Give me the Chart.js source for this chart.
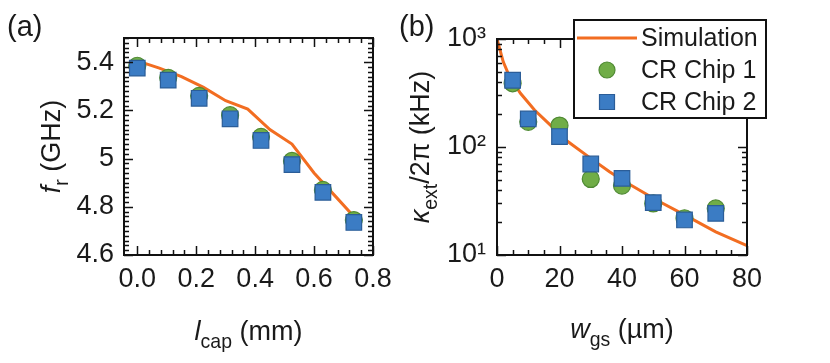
<!DOCTYPE html>
<html>
<head>
<meta charset="utf-8">
<script src="https://cdn.jsdelivr.net/npm/chart.js@4/dist/chart.umd.min.js"></script>
<style>
  html, body { margin: 0; padding: 0; background: #fff; }
  #wrap { position: relative; width: 830px; height: 363px; }
  canvas { position: absolute; top: 0; }
</style>
</head>
<body>
<div id="wrap">
  <canvas id="chartA" width="415" height="363" style="left:0"></canvas>
  <canvas id="chartB" width="435" height="363" style="left:395px"></canvas>
</div>
<script>
// panel (a): resonance frequency vs capacitor length
const lcap = [0, 0.105, 0.21, 0.315, 0.42, 0.525, 0.63, 0.735];
const frChip1 = [5.385, 5.335, 5.26, 5.18, 5.09, 4.99, 4.87, 4.745];
const frChip2 = [5.375, 5.325, 5.25, 5.165, 5.075, 4.975, 4.86, 4.735];
const lcapSim = [0, 0.075, 0.15, 0.225, 0.3, 0.375, 0.45, 0.525, 0.6, 0.675, 0.735];
const frSim = [5.405, 5.375, 5.34, 5.295, 5.24, 5.205, 5.12, 5.06, 4.94, 4.84, 4.76];
const lcapTicks = [0, 0.2, 0.4, 0.6, 0.8];
const frTicks = [4.6, 4.8, 5, 5.2, 5.4];

// panel (b): external coupling rate vs ground gap width
const wgs = [5, 10, 20, 30, 40, 50, 60, 70];
const kappaChip1 = [389, 171, 158, 50.6, 43.9, 30, 21.9, 27];
const kappaChip2 = [415, 182, 125, 69.6, 51.3, 30.5, 21.1, 24.3];
const wgsSim = [0, 2, 4, 7.5, 12, 17, 22, 30, 36, 41, 51, 60, 70, 80];
const kappaSim = [1000, 614, 448, 314, 220, 160, 116, 78.5, 59, 47.7, 32.3, 23.5, 16.4, 12.2];
const wgsTicks = [0, 20, 40, 60, 80];
const kappaTicks = [10, 100, 1000];

const FONT = "'Liberation Sans', Arial, sans-serif";
const TXT = '#1a1a1a';
const ORANGE = '#f26d21';
const GREEN = '#70ad47';
const GREEN_DARK = '#4f8a33';
const BLUE = '#3b7cc4';
const BLUE_DARK = '#2b5d98';
const TICK_SIZE = 27;
const TITLE_SIZE = 27;

Chart.defaults.font.family = FONT;
Chart.defaults.color = TXT;

function pts(xs, ys) {
  return xs.map((x, i) => ({ x: x, y: ys[i] }));
}

function richText(ctx, runs, x, y, size) {
  const fonts = runs.map(r => (r.i ? 'italic ' : '') + (r.sub ? size * 0.72 : size) + 'px ' + FONT);
  let w = 0;
  runs.forEach((r, k) => { ctx.font = fonts[k]; w += ctx.measureText(r.t).width; });
  let cx = x - w / 2;
  ctx.textAlign = 'left';
  ctx.textBaseline = 'alphabetic';
  runs.forEach((r, k) => {
    ctx.font = fonts[k];
    ctx.fillText(r.t, cx, y + (r.sub ? size * 0.3 : 0));
    cx += ctx.measureText(r.t).width;
  });
}

// box around the plot, inward ticks on all four sides, titles, panel letter, legend
const framePlugin = {
  id: 'frame',
  afterDatasetsDraw(chart, args, o) {
    const ctx = chart.ctx;
    const { left, right, top, bottom } = chart.chartArea;
    const xs = chart.scales.x, ys = chart.scales.y;
    ctx.save();
    ctx.strokeStyle = '#111';
    ctx.lineWidth = 1.5;
    ctx.beginPath();
    const tickX = (v, len) => {
      const p = Math.round(xs.getPixelForValue(v)) + 0.5;
      ctx.moveTo(p, bottom); ctx.lineTo(p, bottom - len);
      ctx.moveTo(p, top); ctx.lineTo(p, top + len);
    };
    const tickY = (v, len) => {
      const p = Math.round(ys.getPixelForValue(v)) + 0.5;
      ctx.moveTo(left, p); ctx.lineTo(left + len, p);
      ctx.moveTo(right, p); ctx.lineTo(right - len, p);
    };
    o.xMinor.forEach(v => tickX(v, 5));
    o.xMajor.forEach(v => tickX(v, 9));
    o.yMinor.forEach(v => tickY(v, 5));
    o.yMajor.forEach(v => tickY(v, 9));
    ctx.stroke();
    ctx.lineWidth = 2;
    ctx.strokeRect(left, top, right - left, bottom - top);
    ctx.restore();
  },
  afterDraw(chart, args, o) {
    const ctx = chart.ctx;
    const { left, right, top, bottom } = chart.chartArea;
    ctx.save();
    ctx.fillStyle = TXT;
    richText(ctx, o.xTitle, (left + right) / 2, o.xTitleY, TITLE_SIZE);
    ctx.save();
    ctx.translate(o.yTitleX, (top + bottom) / 2);
    ctx.rotate(-Math.PI / 2);
    richText(ctx, o.yTitle, 0, 0, TITLE_SIZE);
    ctx.restore();
    ctx.font = '29px ' + FONT;
    ctx.textAlign = 'left';
    ctx.fillText(o.panel, o.panelX, 36);

    if (o.legend) {
      const L = o.legend;
      ctx.fillStyle = '#fff';
      ctx.fillRect(L.x, L.y, L.w, L.h);
      ctx.strokeStyle = '#111';
      ctx.lineWidth = 2;
      ctx.strokeRect(L.x, L.y, L.w, L.h);
      const ds = chart.data.datasets;
      const mx = L.x + 33;
      ds.forEach((d, i) => {
        const cy = L.y + 18 + i * 32;
        if (i === 0) {
          ctx.strokeStyle = d.borderColor;
          ctx.lineWidth = 3;
          ctx.beginPath();
          ctx.moveTo(L.x + 3, cy); ctx.lineTo(L.x + 63, cy);
          ctx.stroke();
        } else {
          ctx.fillStyle = d.backgroundColor;
          ctx.strokeStyle = d.borderColor;
          ctx.lineWidth = d.borderWidth;
          ctx.beginPath();
          if (d.pointStyle === 'circle') {
            ctx.arc(mx, cy, 8, 0, Math.PI * 2);
          } else {
            ctx.rect(mx - 7.5, cy - 7.5, 15, 15);
          }
          ctx.fill();
          ctx.stroke();
        }
        ctx.fillStyle = TXT;
        ctx.font = '25px ' + FONT;
        ctx.textBaseline = 'middle';
        ctx.fillText(d.label, L.x + 67, cy + 1);
      });
    }
    ctx.restore();
  }
};

function datasets(simX, simY, x1, y1, x2, y2) {
  return [
    { label: 'Simulation', data: pts(simX, simY), showLine: true, borderColor: ORANGE,
      borderWidth: 3, pointRadius: 0, tension: 0, order: 3 },
    { label: 'CR Chip 1', data: pts(x1, y1), pointStyle: 'circle', pointRadius: 8.5,
      backgroundColor: GREEN, borderColor: GREEN_DARK, borderWidth: 1.2, order: 2 },
    { label: 'CR Chip 2', data: pts(x2, y2), pointStyle: 'rect', pointRadius: 11,
      backgroundColor: BLUE, borderColor: BLUE_DARK, borderWidth: 1.2, order: 1 }
  ];
}

function axis(extra) {
  return Object.assign({
    grid: { display: false, drawTicks: false },
    border: { display: false }
  }, extra);
}

const lcapMinor = [];
for (let k = 0; k <= 20; k++) lcapMinor.push(k * 0.04);
const frMinor = [];
for (let k = 0; k <= 45; k++) frMinor.push(4.6 + k * 0.02);
const wgsMinor = [];
for (let k = 0; k <= 16; k++) wgsMinor.push(k * 5);
const kappaMinor = [];
[10, 100].forEach(d => { for (let m = 2; m <= 9; m++) kappaMinor.push(m * d); });

new Chart(document.getElementById('chartA'), {
  type: 'scatter',
  data: { datasets: datasets(lcapSim, frSim, lcap, frChip1, lcap, frChip2) },
  options: {
    responsive: false,
    animation: false,
    layout: { padding: { left: 0, top: 38, right: 42, bottom: 0 } },
    plugins: {
      legend: { display: false },
      tooltip: { enabled: false },
      frame: {
        xMajor: lcapTicks, xMinor: lcapMinor, yMajor: frTicks, yMinor: frMinor,
        xTitle: [{ t: 'l', i: true }, { t: 'cap', sub: true }, { t: ' (mm)' }],
        yTitle: [{ t: 'f', i: true }, { t: 'r', sub: true }, { t: ' (GHz)' }],
        xTitleY: 340, yTitleX: 60, panel: '(a)', panelX: 7
      }
    },
    scales: {
      x: axis({
        type: 'linear', min: -0.045, max: 0.8,
        afterBuildTicks: s => { s.ticks = lcapTicks.map(v => ({ value: v })); },
        afterFit: s => { s.height = 108; },
        ticks: { font: { size: TICK_SIZE }, color: TXT, padding: 8, maxRotation: 0, autoSkip: false,
          callback: v => Number(v).toFixed(1) }
      }),
      y: axis({
        type: 'linear', min: 4.6, max: 5.5,
        afterBuildTicks: s => { s.ticks = frTicks.map(v => ({ value: v })); },
        afterFit: s => { s.width = 124; },
        ticks: { font: { size: TICK_SIZE }, color: TXT, padding: 10, autoSkip: false,
          callback: v => String(+Number(v).toFixed(1)) }
      })
    }
  },
  plugins: [framePlugin]
});

const sup = { 1: '\u00b9', 2: '\u00b2', 3: '\u00b3' };

new Chart(document.getElementById('chartB'), {
  type: 'scatter',
  data: { datasets: datasets(wgsSim, kappaSim, wgs, kappaChip1, wgs, kappaChip2) },
  options: {
    responsive: false,
    animation: false,
    layout: { padding: { left: 0, top: 39, right: 83, bottom: 0 } },
    plugins: {
      legend: { display: false },
      tooltip: { enabled: false },
      frame: {
        xMajor: wgsTicks, xMinor: wgsMinor, yMajor: kappaTicks, yMinor: kappaMinor,
        xTitle: [{ t: 'w', i: true }, { t: 'gs', sub: true }, { t: ' (\u00b5m)' }],
        yTitle: [{ t: '\u03ba', i: true }, { t: 'ext', sub: true }, { t: '/2\u03c0 (kHz)' }],
        xTitleY: 338, yTitleX: 34, panel: '(b)', panelX: 4,
        legend: { x: 179, y: 20, w: 192, h: 98 }
      }
    },
    scales: {
      x: axis({
        type: 'linear', min: 0, max: 80,
        afterBuildTicks: s => { s.ticks = wgsTicks.map(v => ({ value: v })); },
        afterFit: s => { s.height = 108; },
        ticks: { font: { size: TICK_SIZE }, color: TXT, padding: 8, maxRotation: 0, autoSkip: false }
      }),
      y: axis({
        type: 'logarithmic', min: 10, max: 1000,
        afterBuildTicks: s => { s.ticks = kappaTicks.map(v => ({ value: v })); },
        afterFit: s => { s.width = 102; },
        ticks: { font: { size: TICK_SIZE }, color: TXT, padding: 11, autoSkip: false,
          callback: v => '10' + sup[Math.round(Math.log10(v))] }
      })
    }
  },
  plugins: [framePlugin]
});
</script>
</body>
</html>
